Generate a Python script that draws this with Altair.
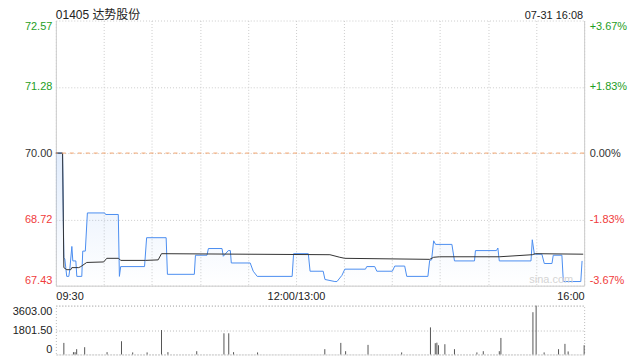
import altair as alt
import pandas as pd

title_text = "01405 达势股份"
time_text = "07-31 16:08"
watermark = "sina.com"
prev_close = 70.0

# minutes since 09:30 (trading minutes, lunch removed) and price
price_min = [0, 4.2, 5, 5.6, 6.8, 8.1, 8.7, 10, 10.6, 12.5, 13.1, 16.2, 16.8, 18.4, 19.7, 30.5, 31.1, 39, 39.7, 40.5,
             55.4, 56.7, 68.9, 69.7, 86.5, 87.2, 94.4, 95.3, 103.8, 104.6, 107.7, 109, 109.6, 121.4, 123.3, 125.8,
             147.6, 148.5, 157.7, 158.8, 167, 168.1, 174.3, 175.6, 178.7, 180.5, 193.4, 194.2, 199.2, 200.5, 210.2,
             211.7, 217.9, 219.2, 232.4, 233.5, 234.7, 236, 237.2, 247.4, 249, 261.5, 262.1, 275.2, 276.1, 277,
             296.8, 297.6, 298.9, 303.6, 305.1, 309.9, 310.7, 316.1, 317, 327.9, 328.7]
price_val = [70.00, 70.00, 67.97, 67.95, 67.61, 67.61, 67.74, 68.19, 67.91, 67.91, 67.61, 67.61, 68.10, 68.10, 68.84,
             68.84, 68.81, 68.81, 67.61, 67.80, 67.80, 68.36, 68.36, 67.65, 67.65, 68.02, 68.02, 68.15, 68.15, 68.00,
             68.11, 68.11, 67.87, 67.87, 67.71, 67.61, 67.61, 68.05, 68.05, 67.71, 67.71, 67.55, 67.51, 67.51, 67.63,
             67.75, 67.75, 67.80, 67.80, 67.71, 67.71, 67.81, 67.81, 67.61, 67.61, 67.92, 67.93, 68.30, 68.23, 68.23,
             67.91, 67.91, 68.11, 68.11, 68.16, 67.91, 67.91, 68.32, 68.04, 68.04, 67.86, 67.86, 68.02, 68.02, 67.51,
             67.51, 67.91]

avg_min = [0, 4.2, 5, 6.8, 9.3, 10, 14.3, 15.6, 19.3, 29.9, 31.8, 39.2, 40.5, 56, 63.9, 66, 171.2, 177.4, 180.5,
           233.5, 236, 239.7, 277, 297.6, 299.5, 329.4]
avg_val = [70.00, 70.00, 67.78, 67.74, 67.74, 67.78, 67.78, 67.80, 67.88, 67.89, 67.96, 67.96, 67.92, 67.92, 67.93,
           68.05, 68.03, 67.98, 67.96, 67.94, 67.98, 67.99, 67.99, 68.03, 68.05, 68.04]

vol_min = [5, 11, 12, 13, 18, 32, 41, 48, 57, 66, 70, 88, 105, 108, 111, 126, 168, 178, 181, 195, 216, 234, 237, 238,
           239, 243, 249, 263, 267, 277, 278, 298, 300, 305, 314, 318, 320, 330]
vol_val = [852, 170, 170, 390, 535, 170, 974, 150, 150, 1800, 170, 240, 1560, 1560, 170, 150, 390, 852, 240, 705, 150,
           1996, 830, 870, 680, 755, 390, 150, 240, 240, 1217, 3116, 3603, 150, 390, 780, 220, 680]

y_ticks = [67.43, 68.715, 70.0, 71.285, 72.57]
y_labels = ["67.43", "68.72", "70.00", "71.28", "72.57"]
pct_labels = ["-3.67%", "-1.83%", "0.00%", "+1.83%", "+3.67%"]
x_ticks = list(range(0, 331, 30))
x_label_pos = [0, 150, 330]
x_labels = ["09:30", "12:00/13:00", "16:00"]
vol_ticks = [0, 1801.5, 3603]
vol_labels = ["0", "1801.50", "3603.00"]

FONT = "'Liberation Sans', Arial, 'Noto Sans CJK SC', sans-serif"
GREEN = "#1e9e1e"
RED = "#f03c3c"
BLUE = "#4b8ef0"
GRID = "#cccccc"


def expr_map(vals, labels):
    s = "''"
    for v, l in reversed(list(zip(vals, labels))):
        s = f"abs(datum.value - {v}) < 0.001 ? '{l}' : ({s})"
    return s


color_expr = f"datum.value > {prev_close + 0.001} ? '{GREEN}' : (datum.value < {prev_close - 0.001} ? '{RED}' : '#333333')"

pdf = pd.DataFrame({"m": price_min, "p": price_val})
adf = pd.DataFrame({"m": avg_min, "a": avg_val})
vdf = pd.DataFrame({"m": vol_min, "v": vol_val})

xscale = alt.Scale(domain=[0, 330], nice=False, zero=False)
yscale = alt.Scale(domain=[67.43, 72.57], nice=False, zero=False)

X = alt.X("m:Q", scale=xscale, axis=alt.Axis(
    values=x_ticks, labelExpr=expr_map(x_label_pos, x_labels), labelFlush=True, labelOverlap=False,
    ticks=False, grid=True, gridColor=GRID, gridDash=[1, 2], domainColor=GRID, labelColor="#222222",
    labelPadding=5, title=None))

left_axis = alt.Axis(orient="left", values=y_ticks, labelExpr=expr_map(y_ticks, y_labels),
                     labelColor={"expr": color_expr}, labelFlush=True, labelOverlap=False, ticks=False,
                     grid=True, gridColor=GRID, gridDash=[1, 2], domainColor=GRID, labelPadding=4, title=None)
right_axis = alt.Axis(orient="right", values=y_ticks, labelExpr=expr_map(y_ticks, pct_labels),
                      labelColor={"expr": color_expr}, labelFlush=True, labelOverlap=False, ticks=False,
                      grid=False, domainColor=GRID, labelPadding=5, title=None)

area = alt.Chart(pdf).mark_area(
    color=alt.Gradient(gradient="linear", x1=1, x2=1, y1=0, y2=1,
                       stops=[alt.GradientStop(color="rgba(75,142,240,0.16)", offset=0),
                              alt.GradientStop(color="rgba(75,142,240,0.0)", offset=1)])
).encode(x=X, y=alt.Y("p:Q", scale=yscale, axis=left_axis), y2=alt.datum(67.43))

price_line = alt.Chart(pdf).mark_line(color=BLUE, strokeWidth=1).encode(
    x="m:Q", y=alt.Y("p:Q", scale=yscale, axis=None))

avg_line = alt.Chart(adf).mark_line(color="#333333", strokeWidth=1).encode(
    x="m:Q", y=alt.Y("a:Q", scale=yscale, axis=right_axis))

rule70 = alt.Chart(pd.DataFrame({"y": [prev_close]})).mark_rule(
    color="#f2a36b", strokeDash=[4, 4], strokeWidth=1).encode(y=alt.Y("y:Q", scale=yscale, axis=None))

title_mark = alt.Chart(pd.DataFrame({"t": [title_text]})).mark_text(
    align="left", baseline="alphabetic", font=FONT, fontSize=12, color="#222222").encode(
    text="t:N", x=alt.value(0), y=alt.value(-2))
time_mark = alt.Chart(pd.DataFrame({"t": [time_text]})).mark_text(
    align="right", baseline="alphabetic", font=FONT, fontSize=11, color="#222222").encode(
    text="t:N", x=alt.value(529), y=alt.value(-2))
wm_mark = alt.Chart(pd.DataFrame({"t": [watermark]})).mark_text(
    align="center", baseline="middle", font=FONT, fontSize=11, color="#d4d4d4").encode(
    text="t:N", x=alt.value(497), y=alt.value(260))

top = alt.layer(area, price_line, avg_line, rule70, wm_mark, title_mark, time_mark).resolve_axis(
    y="independent").properties(width=530, height=266)

vol = alt.Chart(vdf).mark_rule(color="#555555", strokeWidth=1).encode(
    x=alt.X("m:Q", scale=xscale, axis=None),
    y=alt.Y("v:Q", scale=alt.Scale(domain=[0, 3603], nice=False), axis=alt.Axis(
        values=vol_ticks, labelExpr=expr_map(vol_ticks, vol_labels), labelFlush=True, labelOverlap=False,
        ticks=False, domain=False, grid=True, gridColor="#bbbbbb", gridDash=[1, 2], labelColor="#222222",
        labelPadding=4, title=None)),
    y2=alt.datum(0)
).properties(width=530, height=49, view=alt.ViewBackground(stroke="#bbbbbb", strokeDash=[1, 2], strokeWidth=1))

chart = alt.vconcat(top, vol, spacing=3).properties(
    padding={"left": 3, "top": 0, "right": 5, "bottom": 0}
).configure_view(strokeWidth=0).configure_axis(labelFont=FONT, labelFontSize=11)

chart.save("out.html", embed_options={"renderer": "svg", "actions": False})
